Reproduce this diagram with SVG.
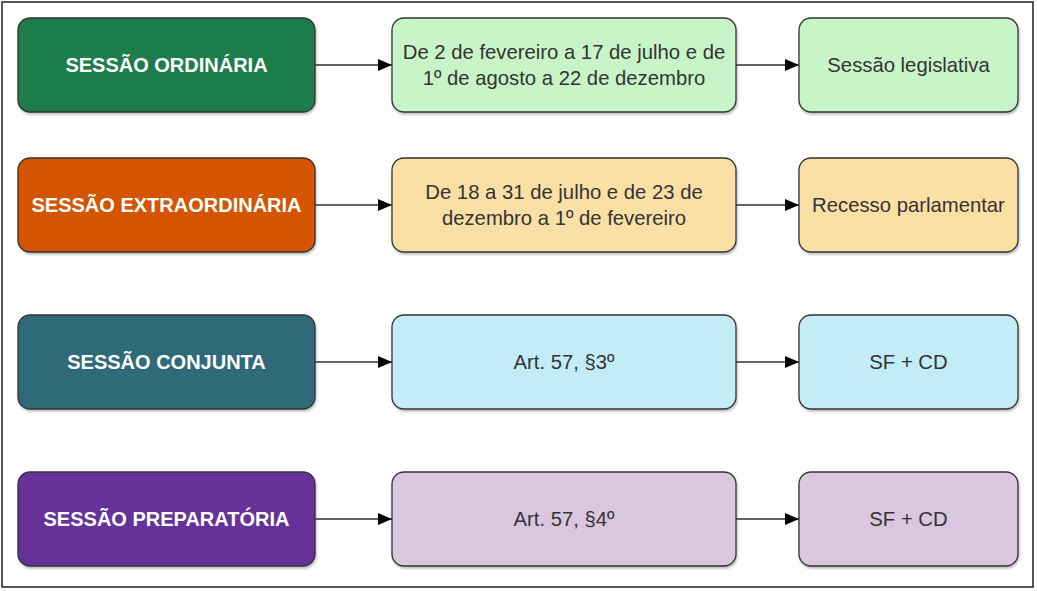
<svg xmlns="http://www.w3.org/2000/svg" width="1037" height="591" viewBox="0 0 1037 591">
<defs>
<marker id="arr" viewBox="0 0 10 10" refX="10" refY="5" markerWidth="14" markerHeight="12" markerUnits="userSpaceOnUse" orient="auto" preserveAspectRatio="none"><path d="M0,0 L10,5 L0,10 Z" fill="#000"/></marker>
<filter id="sh" x="-5%" y="-5%" width="110%" height="115%"><feDropShadow dx="1" dy="2" stdDeviation="1.2" flood-color="#000" flood-opacity="0.25"/></filter>
</defs>
<style>
.b{stroke:#333;stroke-width:1.3;filter:url(#sh)}
.h{font-family:"Liberation Sans",Arial,sans-serif;font-weight:bold;font-size:20px;fill:#fff;text-anchor:middle}
.t{font-family:"Liberation Sans",Arial,sans-serif;font-size:20.3px;fill:#333;text-anchor:middle}
.c{stroke:#333;stroke-width:1.5;fill:none;marker-end:url(#arr)}
</style>
<rect x="0" y="0" width="1037" height="591" fill="#fff"/>
<rect x="2" y="2" width="1031" height="585" fill="#fff" stroke="#111" stroke-width="1.4"/>
<g id="connectors">
<line class="c" x1="315" y1="65" x2="392" y2="65"/>
<line class="c" x1="736" y1="65" x2="799" y2="65"/>
<line class="c" x1="315" y1="205" x2="392" y2="205"/>
<line class="c" x1="736" y1="205" x2="799" y2="205"/>
<line class="c" x1="315" y1="362" x2="392" y2="362"/>
<line class="c" x1="736" y1="362" x2="799" y2="362"/>
<line class="c" x1="315" y1="519" x2="392" y2="519"/>
<line class="c" x1="736" y1="519" x2="799" y2="519"/>
</g>
<g id="n1"><rect class="b" x="18" y="18" width="297" height="94" rx="12" fill="#1f7d4b"/><text class="h" x="166.5" y="72">SESSÃO ORDINÁRIA</text></g>
<g id="n2"><rect class="b" x="392" y="18" width="344" height="94" rx="12" fill="#c8f5c8"/><text class="t" x="564" y="59">De 2 de fevereiro a 17 de julho e de</text><text class="t" x="564" y="85">1º de agosto a 22 de dezembro</text></g>
<g id="n3"><rect class="b" x="799" y="18" width="219" height="94" rx="12" fill="#c8f5c8"/><text class="t" x="908.5" y="72">Sessão legislativa</text></g>
<g id="n4"><rect class="b" x="18" y="158" width="297" height="94" rx="12" fill="#d35400"/><text class="h" x="166.5" y="212">SESSÃO EXTRAORDINÁRIA</text></g>
<g id="n5"><rect class="b" x="392" y="158" width="344" height="94" rx="12" fill="#fbe0a5"/><text class="t" x="564" y="199">De 18 a 31 de julho e de 23 de</text><text class="t" x="564" y="225">dezembro a 1º de fevereiro</text></g>
<g id="n6"><rect class="b" x="799" y="158" width="219" height="94" rx="12" fill="#fbe0a5"/><text class="t" x="908.5" y="212">Recesso parlamentar</text></g>
<g id="n7"><rect class="b" x="18" y="315" width="297" height="94" rx="12" fill="#2f6a78"/><text class="h" x="166.5" y="369">SESSÃO CONJUNTA</text></g>
<g id="n8"><rect class="b" x="392" y="315" width="344" height="94" rx="12" fill="#c4ecf6"/><text class="t" x="564" y="369">Art. 57, §3º</text></g>
<g id="n9"><rect class="b" x="799" y="315" width="219" height="94" rx="12" fill="#c4ecf6"/><text class="t" x="908.5" y="369">SF + CD</text></g>
<g id="n10"><rect class="b" x="18" y="472" width="297" height="94" rx="12" fill="#663399"/><text class="h" x="166.5" y="526">SESSÃO PREPARATÓRIA</text></g>
<g id="n11"><rect class="b" x="392" y="472" width="344" height="94" rx="12" fill="#dbc6e0"/><text class="t" x="564" y="526">Art. 57, §4º</text></g>
<g id="n12"><rect class="b" x="799" y="472" width="219" height="94" rx="12" fill="#dbc6e0"/><text class="t" x="908.5" y="526">SF + CD</text></g>
</svg>
